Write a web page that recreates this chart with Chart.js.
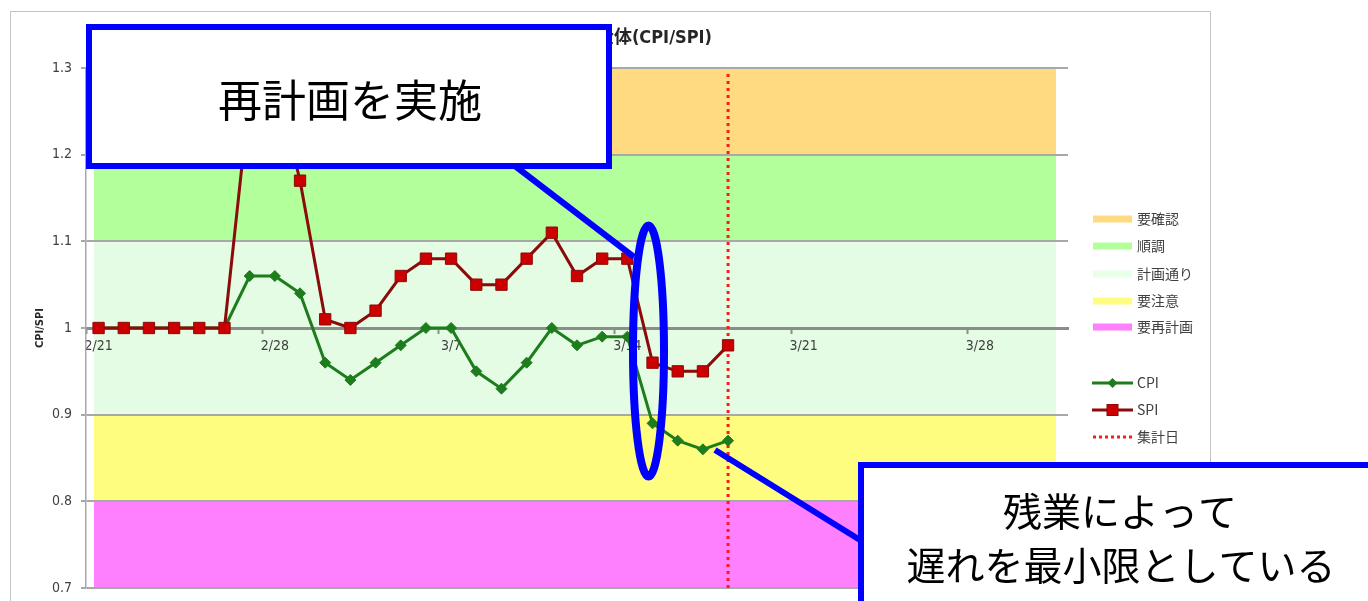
<!DOCTYPE html>
<html>
<head>
<meta charset="utf-8">
<script src="https://cdn.jsdelivr.net/npm/chart.js@4.4.1/dist/chart.umd.min.js"></script>
<style>
  html, body { margin: 0; padding: 0; background: #fff; overflow: hidden; }
  #wrap { position: relative; width: 1368px; height: 601px; }
</style>
</head>
<body>
<div id="wrap"><canvas id="c" width="1368" height="601"></canvas></div>
<script>
// Daily CPI / SPI readings
const dates = ['2/21','2/22','2/23','2/24','2/25','2/26','2/27','2/28',
  '3/1','3/2','3/3','3/4','3/5','3/6','3/7','3/8','3/9','3/10','3/11','3/12',
  '3/13','3/14','3/15','3/16','3/17','3/18'];
const cpiValues = [1.00,1.00,1.00,1.00,1.00,1.00,1.06,1.06,
  1.04,0.96,0.94,0.96,0.98,1.00,1.00,0.95,0.93,0.96,1.00,0.98,
  0.99,0.99,0.89,0.87,0.86,0.87];
const spiValues = [1.00,1.00,1.00,1.00,1.00,1.00,1.27,1.29,
  1.17,1.01,1.00,1.02,1.06,1.08,1.08,1.05,1.05,1.08,1.11,1.06,
  1.08,1.08,0.96,0.95,0.95,0.98];
const cutoffDate = '3/18';

// Weekly axis labels (first day of each week shown on the axis)
const xTickLabels = ['2/21','2/28','3/7','3/14','3/21','3/28'];

// Status bands
const bandNames  = ['要確認','順調','計画通り','要注意','要再計画'];
const bandLower  = [1.2, 1.1, 0.9, 0.8, 0.7];
const bandUpper  = [1.3, 1.2, 1.1, 0.9, 0.8];
const bandColors = ['#FFDA80','#B3FF9C','#E3FCE3','#FEFD80','#FF80FF'];
const bandSwatch = ['#FFDA80','#B3FF9C','#E8FFE8','#FEFD80','#FF80FF'];

const seriesNames = ['CPI','SPI','集計日'];
const chartTitle = '全体(CPI/SPI)';
const yTitle = 'CPI/SPI';
const note1 = ['再計画を実施'];
const note2 = ['残業によって','遅れを最小限としている'];

const CPI_COLOR = '#1d7d1d';
const SPI_LINE = '#8b0a0a';
const SPI_FILL = '#cc0000';
const CUT_COLOR = '#ff1a1a';
const BLUE = '#0000ff';
const NARROW = '"Liberation Sans Narrow","DejaVu Sans Condensed","Noto Sans",sans-serif';
const JP = '"Noto Sans CJK JP","Noto Sans",sans-serif';

const cutIndex = dates.indexOf(cutoffDate);
const xMin = -0.5, xMax = 38.5;

// Background bands and chart frame, drawn beneath the grid
const bandPlugin = {
  id: 'bands',
  beforeDraw(chart) {
    const { ctx, chartArea, scales: { y } } = chart;
    ctx.save();
    ctx.fillStyle = '#fff';
    ctx.fillRect(0, 0, chart.width, chart.height);
    ctx.strokeStyle = '#c4c4c4';
    ctx.lineWidth = 1;
    ctx.strokeRect(10.5, 11.5, 1200, 640);
    const x1 = chartArea.left + 8, x2 = chartArea.right - 12;
    bandNames.forEach((n, i) => {
      const top = y.getPixelForValue(bandUpper[i]);
      const bot = y.getPixelForValue(bandLower[i]);
      ctx.fillStyle = bandColors[i];
      ctx.fillRect(x1, top, x2 - x1, bot - top);
    });
    ctx.restore();
  }
};

function drawDiamond(ctx, x, y, r, color) {
  ctx.beginPath();
  ctx.moveTo(x, y - r); ctx.lineTo(x + r, y); ctx.lineTo(x, y + r); ctx.lineTo(x - r, y);
  ctx.closePath();
  ctx.fillStyle = color; ctx.fill();
}

// Title, legend and annotation callouts
const overlayPlugin = {
  id: 'overlay',
  afterDraw(chart) {
    const { ctx } = chart;
    ctx.save();

    // title
    ctx.fillStyle = '#262626';
    ctx.font = 'bold 18px "DejaVu Sans Condensed",' + JP;
    ctx.textAlign = 'right';
    ctx.textBaseline = 'middle';
    ctx.fillText(chartTitle, 712, 38);

    // y axis title
    ctx.save();
    ctx.translate(40, 328);
    ctx.rotate(-Math.PI / 2);
    ctx.textAlign = 'center';
    ctx.font = 'bold 11px "DejaVu Sans Condensed","DejaVu Sans",sans-serif';
    ctx.fillStyle = '#262626';
    ctx.fillText(yTitle, 0, 0);
    ctx.restore();

    // legend
    const lx = 1093, lw = 39, tx = 1137;
    const bandY = [219, 246, 274, 301, 327];
    ctx.textAlign = 'left';
    ctx.textBaseline = 'middle';
    ctx.font = '14px ' + JP;
    bandNames.forEach((n, i) => {
      ctx.fillStyle = bandSwatch[i];
      ctx.fillRect(lx, bandY[i] - 3.5, lw, 7);
      ctx.fillStyle = '#404040';
      ctx.fillText(n, tx, bandY[i]);
    });
    const lineY = [383, 410, 437];
    // CPI
    ctx.strokeStyle = CPI_COLOR; ctx.lineWidth = 3;
    ctx.beginPath(); ctx.moveTo(lx - 1, lineY[0]); ctx.lineTo(lx + lw + 1, lineY[0]); ctx.stroke();
    drawDiamond(ctx, lx + lw / 2, lineY[0], 5, CPI_COLOR);
    // SPI
    ctx.strokeStyle = SPI_LINE;
    ctx.beginPath(); ctx.moveTo(lx - 1, lineY[1]); ctx.lineTo(lx + lw + 1, lineY[1]); ctx.stroke();
    ctx.fillStyle = SPI_FILL; ctx.fillRect(lx + lw / 2 - 5.5, lineY[1] - 5.5, 11, 11);
    ctx.lineWidth = 1; ctx.strokeStyle = SPI_LINE; ctx.strokeRect(lx + lw / 2 - 5.5, lineY[1] - 5.5, 11, 11);
    // cutoff
    ctx.strokeStyle = CUT_COLOR; ctx.lineWidth = 3; ctx.setLineDash([3, 3]);
    ctx.beginPath(); ctx.moveTo(lx, lineY[2]); ctx.lineTo(lx + lw, lineY[2]); ctx.stroke();
    ctx.setLineDash([]);
    ctx.fillStyle = '#404040';
    seriesNames.forEach((n, i) => ctx.fillText(n, tx, lineY[i]));

    // callout: replanning
    ctx.strokeStyle = BLUE;
    ctx.lineWidth = 6;
    ctx.beginPath(); ctx.moveTo(515, 166); ctx.lineTo(634, 257); ctx.stroke();
    ctx.fillStyle = '#fff';
    ctx.fillRect(89, 27, 520, 139);
    ctx.strokeRect(89, 27, 520, 139);
    ctx.lineWidth = 8;
    ctx.beginPath(); ctx.ellipse(648.5, 351, 15.5, 125.5, 0, 0, Math.PI * 2); ctx.stroke();
    ctx.fillStyle = '#000';
    ctx.textAlign = 'center';
    ctx.font = '44px ' + JP;
    ctx.fillText(note1[0], 350, 100);

    // callout: overtime
    ctx.lineWidth = 6;
    ctx.beginPath(); ctx.moveTo(715, 450); ctx.lineTo(860, 540); ctx.stroke();
    ctx.fillStyle = '#fff';
    ctx.fillRect(861, 465, 560, 200);
    ctx.strokeRect(861, 465, 560, 200);
    ctx.fillStyle = '#000';
    ctx.font = '39px ' + JP;
    ctx.fillText(note2[0], 1120, 511);
    ctx.fillText(note2[1], 1121, 565);

    ctx.restore();
  }
};

const toPoints = arr => arr.map((v, i) => ({ x: i, y: v }));

new Chart(document.getElementById('c'), {
  type: 'line',
  data: {
    datasets: [
      {
        label: 'SPI', data: toPoints(spiValues), order: 1,
        borderColor: SPI_LINE, borderWidth: 3, tension: 0,
        pointStyle: 'rect', pointRadius: 8, pointHoverRadius: 8,
        pointBackgroundColor: SPI_FILL, pointBorderColor: SPI_LINE, pointBorderWidth: 1
      },
      {
        label: 'CPI', data: toPoints(cpiValues), order: 2,
        borderColor: CPI_COLOR, borderWidth: 3, tension: 0,
        pointStyle: 'rectRot', pointRadius: 5.5, pointHoverRadius: 5.5,
        pointBackgroundColor: CPI_COLOR, pointBorderColor: CPI_COLOR, pointBorderWidth: 1
      },
      {
        label: '集計日', order: 3,
        data: [{ x: cutIndex, y: 0.7 }, { x: cutIndex, y: 1.295 }],
        borderColor: CUT_COLOR, borderWidth: 3, borderDash: [3, 4],
        pointRadius: 0, pointHoverRadius: 0
      }
    ]
  },
  options: {
    responsive: false,
    animation: false,
    devicePixelRatio: 1,
    layout: { padding: { left: 10, right: 300, top: 68, bottom: 13 } },
    plugins: { legend: { display: false }, tooltip: { enabled: false }, title: { display: false } },
    scales: {
      x: {
        type: 'linear', min: xMin, max: xMax,
        position: { y: 1 },
        afterBuildTicks(scale) {
          scale.ticks = xTickLabels.map((l, i) => ({ value: -0.5 + 7 * i }));
        },
        ticks: {
          autoSkip: false, maxRotation: 0,
          labelOffset: 12.6, padding: 6,
          color: '#404040', font: { family: NARROW, size: 14 },
          callback: (v, i) => xTickLabels[i]
        },
        grid: { drawOnChartArea: false, drawTicks: true, tickLength: 4, tickColor: '#8c8c8c', tickWidth: 2 },
        border: { display: true, color: '#8c8c8c', width: 3 }
      },
      y: {
        min: 0.7, max: 1.3,
        afterFit(scale) {
          scale.width = 76;
          scale.paddingTop = 0;
          scale.paddingBottom = 0;
        },
        ticks: {
          stepSize: 0.1, padding: 9,
          color: '#404040', font: { family: NARROW, size: 14 },
          callback: v => String(Number(v.toFixed(1)))
        },
        grid: { color: '#a8a8a8', lineWidth: 2, tickLength: 5, tickColor: '#a8a8a8' },
        border: { display: true, color: '#a8a8a8', width: 1.5 }
      }
    }
  },
  plugins: [bandPlugin, overlayPlugin]
});
</script>
</body>
</html>
